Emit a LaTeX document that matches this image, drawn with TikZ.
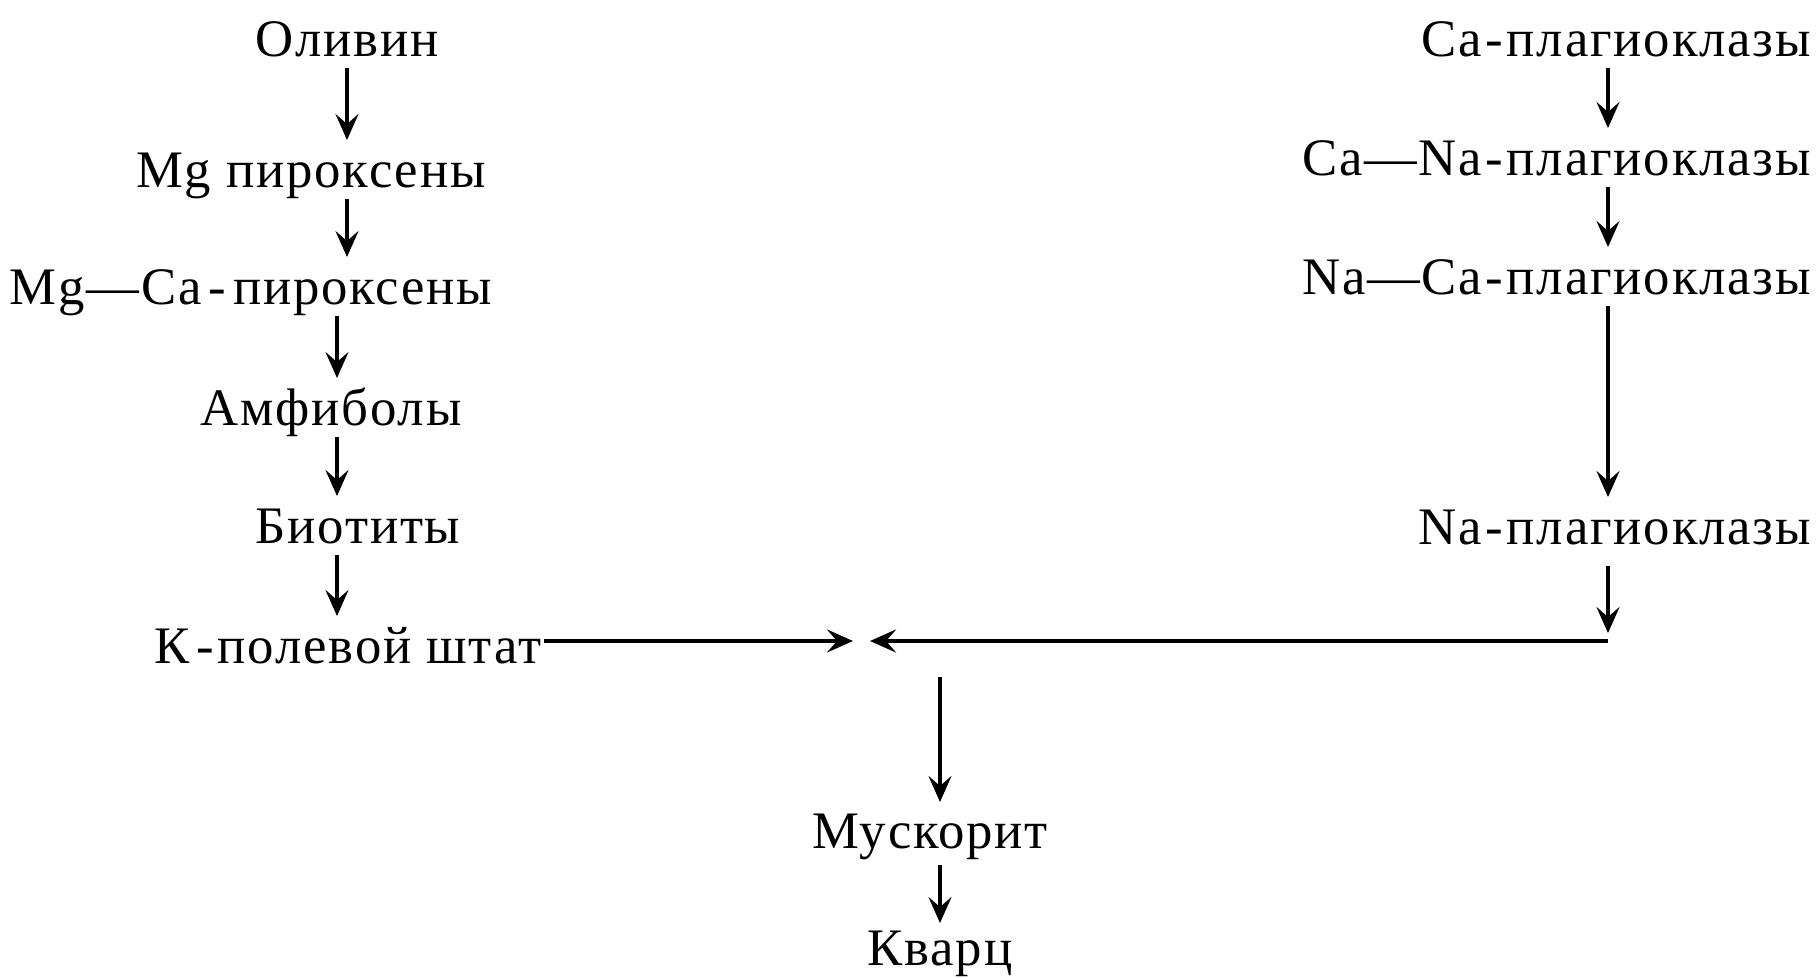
\documentclass[tikz,border=0pt]{standalone}
\usepackage{fontspec}
\setmainfont{Liberation Serif}[LetterSpace=3.5]
\usetikzlibrary{arrows.meta}
\begin{document}
\begin{tikzpicture}[x=0.1mm,y=-0.1mm,
  lbl/.style={inner sep=0pt, outer sep=0pt, anchor=base, font=\fontsize{15}{18}\selectfont, text height=3.5mm, text depth=0pt},
  lblr/.style={lbl, anchor=base east},
  arr/.style={-{Stealth[length=2.6mm,width=2.3mm,inset=1mm]}, line width=0.35mm},
  varr/.style={arr, shorten <=1.2mm, shorten >=1.2mm},
  hl/.style={arr, line width=0.42mm}]
\useasboundingbox (0,0) rectangle (1820,977);
% left column
\node[lbl] (ol)   at (347,56)  {Оливин};
\node[lbl] (mgp)  at (311,187) {Mg пироксены};
\node[lbl] (mgca) at (251,304) {Mg—Ca\kern2pt-\kern2ptпироксены};
\node[lbl] (amf)  at (331,425) {Амфиболы};
\node[lbl] (bio)  at (358,543) {Биотиты};
\node[lbl] (kps)  at (348,663) {К\kern2pt-\kern1ptполевой штат};
% bottom
\node[lbl] (mus)  at (930,848) {Мускорит};
\node[lbl] (kv)   at (940,965) {Кварц};
% right column
\node[lblr] (ca)   at (1811,56)  {Ca\kern1pt-\kern1ptплагиоклазы};
\node[lblr] (cana) at (1811,175) {Ca—Na\kern1pt-\kern1ptплагиоклазы};
\node[lblr] (naca) at (1811,294) {Na—Ca\kern1pt-\kern1ptплагиоклазы};
\node[lblr] (na)   at (1811,544) {Na\kern1pt-\kern1ptплагиоклазы};
% helper coordinates
\coordinate (xa) at (347,0);
\coordinate (xb) at (337,0);
\coordinate (xr) at (1608,0);
\coordinate (xm) at (940,0);
\coordinate (mL) at (853,641);
\coordinate (mR) at (870,641);
\coordinate (mB) at (940,677);
\coordinate (corner) at (1608,641);
% left arrows
\draw[varr] (ol.south -| xa) -- (mgp.north -| xa);
\draw[varr] (mgp.south -| xa) -- (mgca.north -| xa);
\draw[varr] (mgca.south -| xb) -- (amf.north -| xb);
\draw[varr] (amf.south -| xb) -- (bio.north -| xb);
\draw[varr] (bio.south -| xb) -- (kps.north -| xb);
% right arrows
\draw[varr] (ca.south -| xr) -- (cana.north -| xr);
\draw[varr] (cana.south -| xr) -- (naca.north -| xr);
\draw[varr] (naca.south -| xr) -- (na.north -| xr);
\draw[arr, shorten <=2.2mm, shorten >=0.8mm] (na.south -| xr) -- (corner);
% horizontal lines
\draw[hl, shorten <=0.3mm] (kps.east |- mL) -- (mL);
\draw[hl] (corner) -- (mR);
% bottom arrows
\draw[arr, shorten >=1.1mm] (mB) -- (mus.north -| xm);
\draw[arr, shorten <=1.7mm, shorten >=0.7mm] (mus.south -| xm) -- (kv.north -| xm);
\end{tikzpicture}
\end{document}
